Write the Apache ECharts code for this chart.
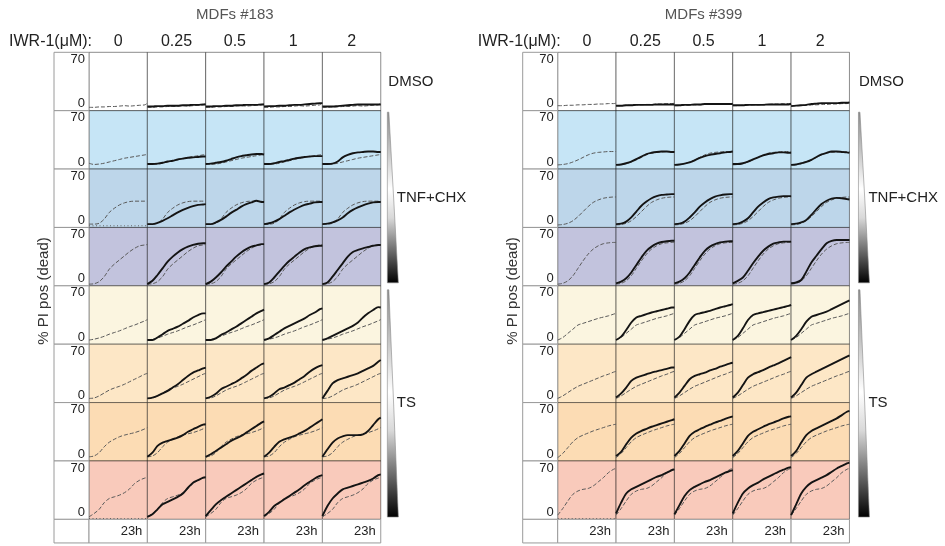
<!DOCTYPE html>
<html><head><meta charset="utf-8">
<script src="https://cdn.jsdelivr.net/npm/echarts@6/dist/echarts.min.js"></script>
<style>html,body{margin:0;padding:0;background:#fff}#c{width:945px;height:546px}</style>
</head><body><div id="c"></div>
<script>
// ---------- data ----------
const hours = [0,2,4,6,8,10,12,14,16,18,20,22,23];
const doses = ['0','0.25','0.5','1','2'];
const yTicks = [0,70];
const timeLabel = '23h';
const rowColors = ['#ffffff','#c6e5f6','#bdd6ea','#c2c3dd','#fbf5e0','#fde7c6','#fcdcb4','#f9cabb'];

// each row: [0 µM (also the dashed reference in every cell), 0.25, 0.5, 1, 2]
// MDFs #183
const m183_dmso = [
 [4,4,4.5,4.5,5,5,5.5,6,5.5,6,6.5,7,9],
 [5,5,5.5,5.5,6,6,6,6.5,6.5,7,7,7.5,7.5],
 [5,5,5.5,5.5,6,6,6.5,6.5,7,7,7,7.5,7.5],
 [5,5.5,5.5,6,6,6.5,7,7,7.5,8,8.5,9,9],
 [5,5,5,5.5,6,6.5,7,7.5,7.5,7.5,7.5,7.5,7.5]];
const m183_tnf1 = [
 [7,5.5,6,7,8.5,10,11.5,13,14,15,16,17,17.5],
 [6,6,6.5,7.5,9,10,11.5,12.5,13.5,14,14.5,15,15],
 [6,6.5,7.5,8.5,10,12,14,15.5,16.5,17.5,18,18,17.5],
 [6,6,7,8.5,9.5,11,12.5,13.5,14.5,15,15.5,15.5,15.5],
 [6,6,6.5,9,14,17,19,20,20.5,21,21,20.5,20.5]];
const m183_tnf2 = [
 [4,4,5,10,18,23,27,29.5,31,31.5,31.5,31.5,31.5],
 [4,4,5.5,8,11,14.5,18,21,23.5,25.5,27,27.5,28],
 [4,4,6,9,13,17.5,21,25,28,30,32,30.5,30.5],
 [4,5,7,10,14,18,21.5,24.5,27,28.5,30,30.5,30.5],
 [4,4.5,6,8.5,12,17,21,24,26.5,28.5,30,30.5,30.5]];
const m183_tnf2_floor = [2,2,2,2,2,2,2,2,2,2,2,2,2];
const m183_tnf3 = [
 [2,2.5,5,11,20,26,31,36,41,45,48,49,49.5],
 [2,6,13,21,29,35,40,44,47,49,50.5,51,51],
 [2,5,10,16,23,29,35,40,44,47,48.5,50,50],
 [2,4,10,17,24,30,35,40,44,46,47.5,48,48],
 [2,4,11,19,27,35,40.5,43,45,46.5,48,49,49]];
const m183_ts1 = [
 [5,6,7.5,9.5,12,14,16,18.5,21,23,25.5,28,29.5],
 [5,5,8,12,16,18.5,21,24.5,28,32,35,37,37],
 [5,5,7,11,14,17.5,21,25,29,33,37,40,41.5],
 [5,7,11,15,19,22,25,28,31,35,38,42,43],
 [5,7,10,13,16,19,22,26,32,37,41,44.5,44]];
const m183_ts2 = [
 [5,5.5,8,11.5,15,17.5,19.5,22,25,28,31,34,35],
 [5,6,8,11,14,18,22,27,32,36,38.5,41,42],
 [5,7,10.5,16,19,22,25,29,33,38,42,46,47],
 [5,7,11,16,18,21,24,28,32,37,41,44,45],
 [5,14,23,27,29,31,33,35,38,41,44,49,51]];
const m183_ts3 = [
 [5,6,10,17,22.5,26,29,31,32.5,34,36,38.5,40],
 [5,10,18,22,24,26,28,31,35,38,41,43.5,44],
 [5,8,12,16,20,24,27,30,34,38,42,46,47.5],
 [5,10,17,23,26,28,30,33,36,40,44,48,50],
 [5,14,22,27,29.5,31,31,31,32,36,43,50,52]];
const m183_ts4 = [
 [3,7,12,20,25,27,29,32,36.5,43,47,49.5,50],
 [3,6,12,18,21,24,27,31,38,44,47,50,50.5],
 [4,11,18,23,27,31,35,39,43,47,51,54,55],
 [4,9,16,20,24,28,32,36,41,45,49,52,53],
 [4,16,25,31,36,38,40,42,44,46,49,53,54]];
const m183_ts4_floor = [1,1,1,1,1,1,1,1,1,1,1,1,1];

// MDFs #399
const m399_dmso = [
 [6,6,6.5,6.5,7,7,7.5,7.5,8,8,8.5,8.5,9],
 [6,6,6.5,6.5,7,7,7,7,7.5,7.5,7.5,7.5,7.5],
 [6.5,6.5,7,7,7.5,7.5,8,8,8,8,8,8,8],
 [6.5,6.5,6.5,7,7,7,7,7.5,7.5,7.5,7.5,7.5,8],
 [5.5,6,6.5,7,8,8.5,9,9,9,9,9.5,9.5,10]];
const m399_tnf1 = [
 [5,5.5,6.5,8.5,11,14,17,19,20,20.5,21,21,21],
 [5,5.5,7,9,12,15,18,19.5,20.5,21,21,20.5,20.5],
 [5,5.5,6.5,8,10.5,13.5,15.5,17,18,19,20,20.5,21],
 [6,6,7,9,11.5,14,16.5,18,19,20,20,19.5,19.5],
 [5,5.5,7,8.5,11,14.5,17.5,19.5,21,21,20.5,20,19.5]];
const m399_tnf2 = [
 [3,3.5,5,8,13,19,25,30,33,35,36,36.5,36.5],
 [4,4.5,7,12,19,26,31,35,37.5,39,39.5,40,40],
 [4,4.5,7,12,18,25,30,34,37,38.5,39.5,40,40],
 [4,4.5,7,11,18,25,30,34,36,37,37.5,37.5,37.5],
 [4,4.5,6,9,15,22,28,32,34.5,35.5,35,34,33.5]];
const m399_tnf3 = [
 [2,3,6,12,21,30,38,44,48,50.5,51.5,52,52],
 [3,5,9,16,25,34,42,47,50.5,52.5,53.5,54,54],
 [3,5,9,16,25,34,42,47,50,52,53,53.5,53.5],
 [3,6,10,18,27,35,42,47,50.5,52,53,53,53],
 [3,4,7,17,28,36,44,51,54,55,55,55,55]];
const m399_ts1 = [
 [5,8,13,18,23,25,27,29,31,32.5,34,36,37],
 [5,9,17,26,32,34,36,38,39.5,41,42.5,44,44],
 [5,9,18,28,35,37,38.5,40,42,44,45.5,47,48],
 [5,10,19,29,35,37,38.5,40,41.5,43,44.5,46,47],
 [5,10,18,27,33,35,37,39,42,45,48,51,52.5]];
const m399_ts2 = [
 [5,8,12,16,19.5,22,24.5,27,29.5,32,34,36.5,37.5],
 [6,11,18,26,30,32,34,36,37.5,39,40.5,42,42],
 [6,12,20,28,32,34,36,38.5,40.5,43,45,47,48],
 [6,12,21,30,34,36.5,39,42,44.5,47,50,53,54.5],
 [6,12,21,30,34,37,40,43,46,49,52,55,56.5]];
const m399_ts3 = [
 [4,9,16,23,28,31,33.5,36,38,40,42,43.5,44],
 [6,11,20,28,33,36,38.5,41,43,45,47,49,50],
 [6,12,21,30,35,38,41,43.5,46,48,50.5,52.5,53.5],
 [6,12,21,30,35,38,41,44,46,48.5,51,53,53.5],
 [6,12,22,31,36,39,42,45,48,51,55,59,60]];
const m399_ts4 = [
 [5,13,22,30,34,36,37,40,45,50,56,60,61],
 [7,20,31,36,39,42,45,48,51,53,56,59,60],
 [6,17,28,35,39,42,45,47,50,53,56,58,59],
 [7,20,31,37,41,44,48,51,54,57,59.5,62,62.5],
 [5,18,31,39,44,47,50,53,57,61,64,67,68]];
const m399_ts4_floor = [1,1,1,1,1,1,1,1,1,1,1,1,1];

// ---------- layout ----------
const FONT = '"Liberation Sans", Arial, Helvetica, sans-serif';
const TOP = 52.3, ROWH = 58.38, BOTH = 23.6, LABELW = 35, COLW = 58.35;
const panels = [
  {title:'MDFs #183', x0:54, rows:[m183_dmso,m183_tnf1,m183_tnf2,m183_tnf3,m183_ts1,m183_ts2,m183_ts3,m183_ts4],
   floors:[null,null,m183_tnf2_floor,null,null,null,null,m183_ts4_floor], wedgeDx:6.6, dmsoDx:7.6, sideDx:16, yLabelX:44},
  {title:'MDFs #399', x0:522.7, rows:[m399_dmso,m399_tnf1,m399_tnf2,m399_tnf3,m399_ts1,m399_ts2,m399_ts3,m399_ts4],
   floors:[null,null,null,null,null,null,null,m399_ts4_floor], wedgeDx:9, dmsoDx:9.5, sideDx:19, yLabelX:512.7}
];

const grids = [], xAxes = [], yAxes = [], series = [], graphics = [];
const toPts = arr => hours.map((h,i) => [h, arr[i]]);

function txt(text, x, y, size, color, align, valign, rot) {
  const el = {type:'text', x:x, y:y, silent:true,
    style:{text:text, fontSize:size, fontFamily:FONT, fill:color, textAlign:align||'center',
           textVerticalAlign:valign||'middle', verticalAlign:valign||'middle'}};
  if (rot) el.rotation = rot;
  return el;
}

panels.forEach(p => {
  const gx0 = p.x0 + LABELW;
  const right = gx0 + 5*COLW;
  for (let r = 0; r < 8; r++) {
    graphics.push({type:'rect', silent:true, shape:{x:p.x0, y:TOP + r*ROWH, width:LABELW, height:ROWH},
      style:{fill:'#fff', stroke:'#9a9a9a', lineWidth:1}});
  }
  graphics.push({type:'rect', silent:true, shape:{x:p.x0, y:TOP + 8*ROWH, width:LABELW, height:BOTH},
    style:{fill:'#fff', stroke:'#9a9a9a', lineWidth:1}});
  for (let c = 0; c < 5; c++) {
    graphics.push({type:'rect', silent:true, shape:{x:gx0 + c*COLW, y:TOP + 8*ROWH, width:COLW, height:BOTH},
      style:{fill:'#fff', stroke:'#9a9a9a', lineWidth:1}});
  }
  graphics.push(txt(p.title, (gx0+right)/2, 15, 15, '#555'));
  graphics.push(txt('IWR-1(μM):', gx0 + 3, 42, 16, '#222', 'right'));
  doses.forEach((d,c) => graphics.push(txt(d, gx0 + (c+0.5)*COLW, 42, 16, '#222')));
  graphics.push(txt('DMSO', right + p.dmsoDx, TOP + 0.5*ROWH, 15, '#222', 'left'));
  graphics.push(txt('TNF+CHX', right + p.sideDx, TOP + 2.5*ROWH, 15, '#222', 'left'));
  graphics.push(txt('TS', right + p.sideDx, TOP + 6*ROWH, 15, '#222', 'left'));
  graphics.push(txt('% PI pos (dead)', p.yLabelX, 291, 15, '#333', 'center', 'middle', Math.PI/2));
  const wedge = (t, b) => ({type:'polygon', silent:true,
    shape:{points:[[right+p.wedgeDx, t],[right+p.wedgeDx+1.5, t],[right+p.wedgeDx+11, b],[right+p.wedgeDx, b]]},
    style:{stroke:'#888', lineWidth:0.6,
      fill:new echarts.graphic.LinearGradient(0,0,0,1,[
        {offset:0,color:'#8a8a8a'},{offset:0.45,color:'#ffffff'},{offset:0.62,color:'#d8d8d8'},{offset:1,color:'#000000'}])}});
  graphics.push(wedge(TOP + ROWH + 1.5, TOP + 4*ROWH - 3));
  graphics.push(wedge(TOP + 4*ROWH + 4, TOP + 8*ROWH - 2.3));

  p.rows.forEach((row, r) => {
    for (let c = 0; c < 5; c++) {
      const g = grids.length;
      grids.push({left:gx0 + c*COLW, top:TOP + r*ROWH, width:COLW, height:ROWH, show:true,
        backgroundColor:rowColors[r], borderColor:'rgba(0,0,0,0.45)', borderWidth:1, containLabel:false});
      xAxes.push({gridIndex:g, type:'value', min:0, max:hours[hours.length-1], interval:hours[hours.length-1],
        axisLine:{show:false}, axisTick:{show:false}, splitLine:{show:false},
        axisLabel: r === 7 ? {show:true, showMinLabel:false, showMaxLabel:true, formatter:v => v === hours[hours.length-1] ? timeLabel : '',
          align:'right', padding:[0,5,0,0], margin:6, fontSize:13, fontFamily:FONT, color:'#222'} : {show:false}});
      yAxes.push({gridIndex:g, type:'value', min:yTicks[0], max:yTicks[1], interval:yTicks[1]-yTicks[0],
        axisLine:{show:false}, axisTick:{show:false}, splitLine:{show:false},
        axisLabel: c === 0 ? {show:true, showMinLabel:true, showMaxLabel:true, margin:4, fontSize:13, fontFamily:FONT,
          color:'#222', lineHeight:14, formatter:v => v === yTicks[1] ? '\n' + v : v + '\n'} : {show:false}});
      if (c === 0 && p.floors[r]) {
        series.push({type:'line', xAxisIndex:g, yAxisIndex:g, data:toPts(p.floors[r]), symbol:'none', silent:true,
          lineStyle:{color:'#666', width:1, type:[1,2.5]}, z:2});
      }
      series.push({type:'line', xAxisIndex:g, yAxisIndex:g, data:toPts(row[0]), symbol:'none', smooth:0.3, silent:true,
        lineStyle:{color:'#5a5a5a', width:1, type:[4,2]}, z:3});
      if (c > 0) {
        series.push({type:'line', xAxisIndex:g, yAxisIndex:g, data:toPts(row[c]), symbol:'none', smooth:0.3, silent:true,
          lineStyle:{color:'#141414', width:1.9}, z:4});
      }
    }
  });
});

const chart = echarts.init(document.getElementById('c'), null, {renderer:'canvas'});
chart.setOption({animation:false, backgroundColor:'#fff', grid:grids, xAxis:xAxes, yAxis:yAxes, series:series, graphic:graphics});
</script></body></html>
